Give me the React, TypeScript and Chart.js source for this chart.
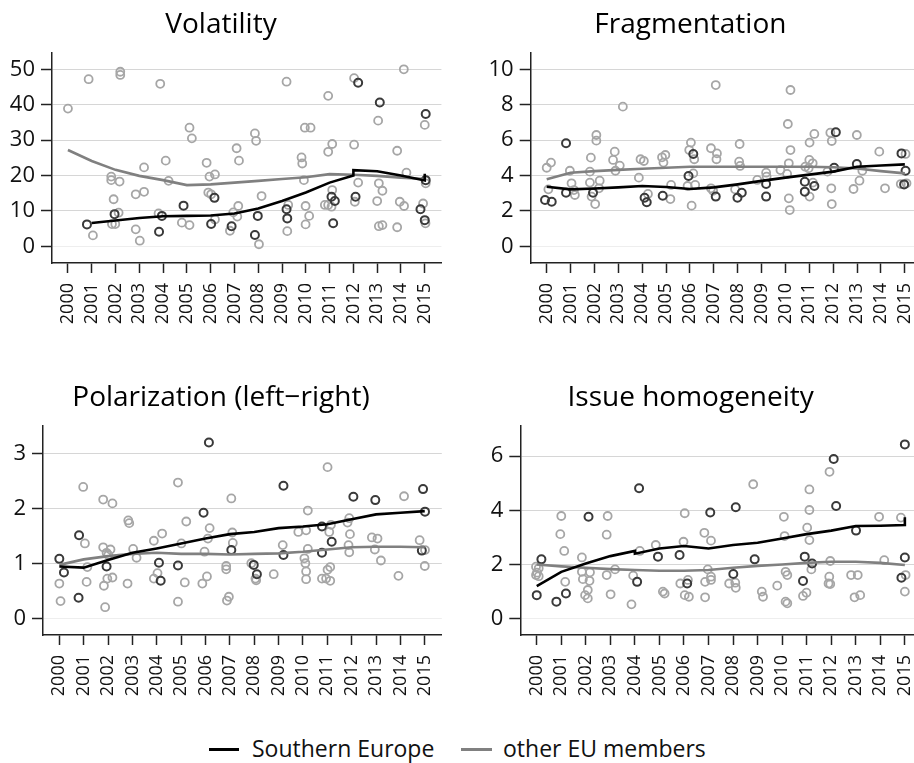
import React, { useEffect, useRef } from "react";
import { Chart, registerables } from "chart.js";

Chart.register(...registerables);

// ---------- data ----------
const years = [2000, 2001, 2002, 2003, 2004, 2005, 2006, 2007, 2008, 2009, 2010, 2011, 2012, 2013, 2014, 2015];
const yearLabels = years.map((y) => String(y));

const seriesNames = ["Southern Europe", "other EU members"];

// Volatility
const volatilityTicks = [0, 10, 20, 30, 40, 50];
const volatilityOther: [number, number][] = [
  [2000.0, 38.9], [2000.87, 47.2], [2001.05, 3.1], [2001.82, 19.7], [2001.82, 18.7], [2001.92, 13.3], [2001.85, 6.3], [2001.99, 6.3],
  [2002.13, 9.5], [2002.2, 49.3], [2002.2, 48.4], [2002.17, 18.3], [2002.85, 4.8], [2003.02, 1.6], [2002.85, 14.7], [2003.2, 15.4],
  [2003.2, 22.3], [2003.88, 45.9], [2003.81, 9.3], [2004.11, 24.2], [2004.23, 18.5], [2005.11, 33.5], [2005.21, 30.5], [2004.79, 6.7],
  [2005.11, 6.0], [2005.83, 23.6], [2005.95, 19.7], [2006.18, 20.3], [2005.9, 15.2], [2006.02, 14.7], [2006.18, 7.6], [2007.09, 27.7],
  [2007.19, 24.2], [2007.16, 11.4], [2006.95, 9.6], [2007.12, 8.4], [2006.81, 4.4], [2007.86, 31.9], [2007.91, 29.8], [2008.14, 14.2],
  [2008.03, 0.6], [2009.19, 46.5], [2009.22, 4.3], [2009.26, 11.7], [2009.82, 25.1], [2009.85, 23.4], [2009.96, 33.5], [2010.2, 33.5],
  [2009.92, 18.7], [2009.99, 11.4], [2010.14, 8.6], [2009.99, 6.2], [2010.94, 42.5], [2010.94, 26.7], [2011.11, 28.9], [2011.11, 15.9],
  [2010.8, 11.7], [2010.94, 11.7], [2011.08, 11.2], [2012.03, 47.5], [2012.03, 28.7], [2012.06, 12.6], [2012.2, 18.0], [2013.04, 35.5],
  [2013.07, 17.8], [2013.22, 15.7], [2013.0, 12.8], [2013.07, 5.7], [2013.22, 6.0], [2013.84, 27.0], [2014.12, 50.0], [2014.23, 20.8],
  [2013.95, 12.6], [2014.13, 11.4], [2013.84, 5.4], [2014.93, 12.1], [2015.0, 34.3], [2015.04, 17.8], [2015.03, 6.5],
];
const volatilitySouth: [number, number][] = [
  [2000.8, 6.2], [2001.96, 9.1], [2003.95, 8.6], [2003.83, 4.1], [2004.86, 11.5], [2006.16, 13.7], [2006.02, 6.3], [2006.88, 5.7],
  [2007.98, 8.6], [2007.86, 3.2], [2009.19, 10.5], [2009.22, 7.9], [2011.08, 14.0], [2011.22, 12.8], [2011.15, 6.5], [2012.2, 46.2],
  [2012.09, 14.0], [2013.11, 40.6], [2014.82, 10.5], [2015.04, 37.4], [2015.04, 18.7], [2015.0, 7.4],
];
const volatilitySouthFit: [number, number][] = [
  [2001, 6.6], [2002, 7.3], [2003, 8.0], [2004, 8.5], [2005, 8.6], [2006, 8.7], [2007, 9.3], [2008, 10.7], [2009, 12.8],
  [2010, 15.2], [2011, 18.0], [2012, 20.0], [2012, 21.5], [2013, 21.2], [2014, 20.0], [2015, 18.6], [2015, 20.5],
];
const volatilityOtherFit: [number, number][] = [
  [2000, 27.2], [2001, 24.1], [2002, 21.6], [2003, 19.9], [2004, 18.7], [2005, 17.3], [2006, 17.5], [2007, 18.0], [2008, 18.5],
  [2009, 19.0], [2010, 19.5], [2011, 20.4], [2012, 20.2], [2013, 19.9], [2014, 19.4], [2015, 19.0],
];

// Fragmentation
const fragmentationTicks = [0, 2, 4, 6, 8, 10];
const fragmentationOther: [number, number][] = [
  [2000.0, 4.44], [2000.18, 4.73], [2000.07, 3.22], [2000.97, 4.27], [2001.04, 3.56], [2001.14, 3.18], [2001.18, 2.9], [2001.85, 5.01],
  [2001.81, 4.22], [2002.08, 6.29], [2002.08, 5.97], [2001.81, 3.6], [2001.88, 2.81], [2002.03, 2.39], [2002.22, 3.71], [2002.19, 3.28],
  [2002.85, 5.35], [2002.78, 4.88], [2002.88, 4.27], [2003.06, 4.56], [2003.19, 7.89], [2003.86, 3.88], [2003.93, 4.92], [2004.07, 4.82],
  [2004.24, 2.96], [2004.83, 5.03], [2004.97, 5.16], [2004.89, 4.73], [2005.21, 3.47], [2005.18, 2.67], [2006.04, 5.86], [2005.97, 5.44],
  [2006.18, 4.92], [2006.14, 4.12], [2005.9, 3.41], [2006.22, 3.47], [2006.07, 2.3], [2006.88, 5.54], [2007.13, 5.25], [2007.11, 4.92],
  [2007.08, 9.11], [2006.88, 3.28], [2006.97, 3.14], [2008.08, 5.78], [2008.06, 4.78], [2008.1, 4.54], [2007.89, 3.22], [2008.82, 3.75],
  [2009.19, 4.16], [2009.21, 3.94], [2009.79, 4.31], [2010.1, 6.91], [2010.21, 8.83], [2010.21, 5.44], [2010.14, 4.69], [2010.07, 4.09],
  [2010.14, 2.71], [2010.18, 2.05], [2011.01, 5.86], [2011.21, 6.35], [2011.0, 4.88], [2011.14, 4.69], [2010.83, 4.5], [2010.97, 4.41],
  [2011.01, 2.81], [2011.15, 3.6], [2011.88, 6.42], [2011.94, 5.95], [2011.92, 3.28], [2011.94, 2.39], [2011.76, 4.22], [2012.99, 6.29],
  [2013.1, 3.71], [2012.85, 3.24], [2013.22, 4.27], [2013.93, 5.35], [2014.17, 3.28], [2014.83, 3.52], [2015.03, 5.22], [2015.07, 3.56],
];
const fragmentationSouth: [number, number][] = [
  [1999.93, 2.62], [2000.21, 2.52], [2000.81, 5.82], [2000.81, 3.03], [2001.94, 3.03], [2004.1, 2.75], [2004.19, 2.49], [2004.86, 2.86],
  [2005.94, 3.97], [2006.14, 5.22], [2007.08, 2.81], [2007.99, 2.75], [2008.17, 3.03], [2009.19, 3.52], [2009.19, 2.81], [2010.81, 3.65],
  [2010.81, 3.09], [2011.21, 3.41], [2012.04, 4.44], [2012.11, 6.44], [2012.99, 4.65], [2014.86, 5.25], [2015.03, 4.27], [2014.97, 3.5],
];
const fragmentationSouthFit: [number, number][] = [
  [2000, 3.37], [2001, 3.22], [2002, 3.27], [2003, 3.33], [2004, 3.41], [2005, 3.35], [2006, 3.24], [2007, 3.33], [2008, 3.5],
  [2009, 3.7], [2010, 3.88], [2011, 4.05], [2012, 4.22], [2013, 4.5], [2014, 4.57], [2015, 4.63],
];
const fragmentationOtherFit: [number, number][] = [
  [2000, 3.79], [2001, 4.16], [2002, 4.25], [2003, 4.32], [2004, 4.38], [2005, 4.44], [2006, 4.5], [2007, 4.5], [2008, 4.5],
  [2009, 4.5], [2010, 4.5], [2011, 4.5], [2012, 4.47], [2013, 4.4], [2014, 4.25], [2015, 4.12],
];

// Polarization (left-right)
const polarizationTicks = [0, 1, 2, 3];
const polarizationOther: [number, number][] = [
  [2000.0, 0.64], [2000.05, 0.32], [2000.98, 2.4], [2001.05, 1.37], [2001.12, 0.67], [2001.15, 0.94], [2001.8, 2.17], [2002.18, 2.1],
  [2001.8, 1.3], [2002.1, 1.26], [2001.94, 1.2], [2002.01, 1.16], [2001.83, 0.6], [2001.97, 0.73], [2002.18, 0.75], [2001.88, 0.21],
  [2002.83, 1.79], [2002.87, 1.74], [2003.03, 1.27], [2003.17, 1.11], [2002.8, 0.64], [2003.88, 1.42], [2004.22, 1.55], [2004.03, 0.83],
  [2003.88, 0.73], [2004.87, 2.48], [2005.01, 1.37], [2005.21, 1.77], [2005.15, 0.66], [2004.87, 0.31], [2006.17, 1.65], [2006.1, 1.46],
  [2005.96, 1.22], [2006.06, 0.77], [2005.87, 0.64], [2007.06, 2.19], [2007.1, 1.57], [2007.12, 1.38], [2006.85, 0.96], [2006.85, 0.9],
  [2006.96, 0.4], [2006.88, 0.33], [2007.88, 1.01], [2008.05, 0.73], [2008.08, 0.7], [2009.17, 1.34], [2008.8, 0.81], [2010.2, 1.97],
  [2009.81, 1.58], [2010.13, 1.61], [2010.2, 1.27], [2010.06, 1.1], [2010.1, 1.01], [2010.13, 0.86], [2010.13, 0.72], [2011.01, 2.76],
  [2011.08, 1.58], [2011.15, 1.71], [2011.01, 0.89], [2011.12, 0.94], [2010.78, 0.73], [2010.95, 0.73], [2011.12, 0.69], [2011.9, 1.83],
  [2011.83, 1.75], [2011.93, 1.54], [2011.87, 1.34], [2011.9, 1.21], [2012.83, 1.48], [2013.06, 1.46], [2012.95, 1.26], [2013.2, 1.06],
  [2014.15, 2.23], [2013.92, 0.78], [2014.79, 1.43], [2015.01, 1.25], [2015.0, 0.96],
];
const polarizationSouth: [number, number][] = [
  [2000.0, 1.09], [2000.19, 0.84], [2000.81, 1.52], [2000.79, 0.38], [2001.94, 0.95], [2004.09, 1.02], [2004.16, 0.69], [2004.87, 0.97],
  [2005.92, 1.93], [2006.14, 3.21], [2007.06, 1.25], [2007.98, 0.98], [2008.11, 0.81], [2009.2, 2.42], [2009.2, 1.16], [2010.78, 1.68],
  [2010.78, 1.2], [2011.18, 1.4], [2012.07, 2.22], [2012.97, 2.16], [2014.93, 2.36], [2015.01, 1.95], [2014.88, 1.24],
];
const polarizationSouthFit: [number, number][] = [
  [2000, 0.95], [2001, 0.93], [2002, 1.07], [2003, 1.2], [2004, 1.28], [2005, 1.37], [2006, 1.46], [2007, 1.54], [2008, 1.58],
  [2009, 1.65], [2010, 1.68], [2011, 1.72], [2012, 1.81], [2013, 1.9], [2014, 1.93], [2015, 1.96],
];
const polarizationOtherFit: [number, number][] = [
  [2000, 0.98], [2001, 1.08], [2002, 1.14], [2003, 1.18], [2004, 1.2], [2005, 1.18], [2006, 1.18], [2007, 1.17], [2008, 1.18],
  [2009, 1.19], [2010, 1.22], [2011, 1.26], [2012, 1.3], [2013, 1.31], [2014, 1.31], [2015, 1.3],
];

// Issue homogeneity
const homogeneityTicks = [0, 2, 4, 6];
const homogeneityOther: [number, number][] = [
  [1999.97, 1.92], [2000.08, 1.86], [2000.01, 1.7], [2000.08, 1.57], [1999.97, 1.61], [2001.0, 3.79], [2000.96, 3.12], [2001.12, 2.5],
  [2001.16, 1.36], [2001.84, 2.26], [2001.84, 1.73], [2001.88, 1.46], [2002.15, 1.4], [2002.17, 1.71], [2001.97, 0.87], [2002.08, 1.06],
  [2002.08, 0.75], [2002.89, 3.79], [2002.85, 3.1], [2002.85, 1.61], [2003.19, 1.82], [2003.01, 0.9], [2003.86, 0.53], [2003.93, 1.59],
  [2004.2, 2.5], [2004.85, 2.72], [2005.14, 1.0], [2005.21, 0.93], [2006.03, 3.89], [2005.98, 2.84], [2005.85, 1.3], [2006.16, 1.43],
  [2006.03, 0.87], [2006.2, 0.81], [2006.83, 3.17], [2007.1, 2.88], [2007.1, 1.55], [2006.86, 1.36], [2006.97, 1.82], [2007.1, 1.43],
  [2006.86, 0.79], [2007.84, 1.3], [2008.09, 1.33], [2008.11, 1.14], [2008.82, 4.96], [2009.17, 1.0], [2009.22, 0.81], [2009.8, 1.22],
  [2010.07, 3.76], [2010.1, 3.05], [2010.14, 1.73], [2010.21, 1.61], [2010.14, 0.63], [2010.21, 0.57], [2011.11, 4.77], [2011.11, 4.01],
  [2011.02, 3.36], [2011.11, 2.9], [2011.19, 1.82], [2010.85, 0.84], [2010.99, 0.96], [2011.93, 5.42], [2011.96, 2.13], [2011.92, 1.55],
  [2011.89, 1.3], [2011.96, 1.28], [2012.81, 1.61], [2013.08, 1.61], [2012.95, 0.79], [2013.18, 0.87], [2013.95, 3.76], [2014.16, 2.16],
  [2014.84, 3.73], [2015.03, 1.61], [2015.0, 1.0],
];
const homogeneitySouth: [number, number][] = [
  [2000.0, 0.87], [2000.19, 2.19], [2000.8, 0.63], [2001.19, 0.93], [2002.11, 3.76], [2004.17, 4.81], [2004.09, 1.36], [2004.94, 2.29],
  [2005.82, 2.35], [2006.13, 1.3], [2007.07, 3.92], [2008.11, 4.11], [2008.01, 1.65], [2008.88, 2.19], [2010.92, 2.29], [2010.85, 1.39],
  [2011.22, 2.04], [2012.1, 5.89], [2012.2, 4.16], [2013.01, 3.25], [2015.0, 6.43], [2015.0, 2.26], [2014.86, 1.51],
];
const homogeneitySouthFit: [number, number][] = [
  [2000, 1.2], [2001, 1.73], [2002, 2.04], [2003, 2.31], [2004, 2.5], [2004, 2.4], [2005, 2.59], [2006, 2.68], [2007, 2.59],
  [2008, 2.72], [2009, 2.8], [2010, 2.96], [2011, 3.12], [2012, 3.25], [2013, 3.42], [2014, 3.43], [2015, 3.46], [2015, 3.74],
];
const homogeneityOtherFit: [number, number][] = [
  [2000, 2.0], [2001, 1.93], [2002, 1.88], [2003, 1.83], [2004, 1.8], [2005, 1.77], [2006, 1.77], [2007, 1.8], [2008, 1.88],
  [2009, 1.95], [2010, 2.0], [2011, 2.06], [2012, 2.1], [2013, 2.1], [2014, 2.06], [2015, 1.98],
];

// ---------- styling ----------
const FONT = "'Open Sans', 'Noto Sans', sans-serif";
const SOUTH_POINT = "#3a3a3a";
const OTHER_POINT = "#a6a6a6";
const SOUTH_LINE = "#000000";
const OTHER_LINE = "#808080";

type PanelSpec = {
  title: string;
  left: number;
  top: number;
  width: number;
  height: number;
  padTop: number;
  padRight: number;
  yAxisWidth: number;
  xAxisHeight: number;
  yMin: number;
  yMax: number;
  yTicks: number[];
  south: [number, number][];
  other: [number, number][];
  southFit: [number, number][];
  otherFit: [number, number][];
};

const panels: PanelSpec[] = [
  {
    title: "Volatility", left: 0, top: 0, width: 457, height: 330, padTop: 8.2, padRight: 15,
    yAxisWidth: 52, xAxisHeight: 67, yMin: -4.7, yMax: 54.6, yTicks: volatilityTicks,
    south: volatilitySouth, other: volatilityOther, southFit: volatilitySouthFit, otherFit: volatilityOtherFit,
  },
  {
    title: "Fragmentation", left: 457, top: 0, width: 480, height: 330, padTop: 8.2, padRight: 13.2,
    yAxisWidth: 73.7, xAxisHeight: 67, yMin: -0.94, yMax: 10.92, yTicks: fragmentationTicks,
    south: fragmentationSouth, other: fragmentationOther, southFit: fragmentationSouthFit, otherFit: fragmentationOtherFit,
  },
  {
    title: "Polarization (left\u2212right)", left: 0, top: 330, width: 457, height: 380, padTop: 50.9, padRight: 15,
    yAxisWidth: 43, xAxisHeight: 75, yMin: -0.297, yMax: 3.515, yTicks: polarizationTicks,
    south: polarizationSouth, other: polarizationOther, southFit: polarizationSouthFit, otherFit: polarizationOtherFit,
  },
  {
    title: "Issue homogeneity", left: 457, top: 330, width: 480, height: 380, padTop: 50.9, padRight: 12.7,
    yAxisWidth: 63.3, xAxisHeight: 75, yMin: -0.6, yMax: 7.12, yTicks: homogeneityTicks,
    south: homogeneitySouth, other: homogeneityOther, southFit: homogeneitySouthFit, otherFit: homogeneityOtherFit,
  },
];

const toXY = (arr: [number, number][]) => arr.map(([x, y]) => ({ x, y }));

function Panel({ spec }: { spec: PanelSpec }) {
  const ref = useRef<HTMLCanvasElement | null>(null);
  useEffect(() => {
    if (!ref.current) return;
    const chart = new Chart(ref.current, {
      type: "scatter",
      data: {
        datasets: [
          {
            label: seriesNames[0], data: toXY(spec.southFit), showLine: true, borderColor: SOUTH_LINE,
            borderWidth: 2.6, pointRadius: 0, tension: 0, order: 0,
          },
          {
            label: seriesNames[1], data: toXY(spec.otherFit), showLine: true, borderColor: OTHER_LINE,
            borderWidth: 2.6, pointRadius: 0, tension: 0, order: 1,
          },
          {
            label: seriesNames[0] + " points", data: toXY(spec.south), borderColor: SOUTH_POINT,
            backgroundColor: "rgba(0,0,0,0)", pointRadius: 4, borderWidth: 2, order: 2,
          },
          {
            label: seriesNames[1] + " points", data: toXY(spec.other), borderColor: OTHER_POINT,
            backgroundColor: "rgba(0,0,0,0)", pointRadius: 4, borderWidth: 1.8, order: 3,
          },
        ],
      },
      options: {
        responsive: false,
        animation: false,
        events: [],
        layout: { padding: { top: spec.padTop, right: spec.padRight, left: 0, bottom: 0 } },
        plugins: {
          legend: { display: false },
          tooltip: { enabled: false },
          title: {
            display: true,
            text: spec.title,
            color: "#000",
            font: { family: FONT, size: 28, weight: "normal" as any, lineHeight: 1.2 },
            padding: { top: 0, bottom: 11.2 },
          },
        },
        scales: {
          x: {
            type: "linear",
            min: 1999.33,
            max: 2015.7,
            afterBuildTicks: (scale: any) => {
              scale.ticks = years.map((v) => ({ value: v }));
            },
            afterFit: (scale: any) => {
              scale.height = spec.xAxisHeight;
            },
            ticks: {
              autoSkip: false,
              maxRotation: 90,
              minRotation: 90,
              padding: 10,
              color: "#111",
              font: { family: FONT, size: 18 },
              callback: (v: any) => {
                const i = years.indexOf(Number(v));
                return i >= 0 ? yearLabels[i] : "";
              },
            },
            grid: {
              drawOnChartArea: false,
              drawTicks: true,
              tickLength: 10,
              tickColor: "#222",
              tickWidth: 1.5,
            },
            border: { display: true, color: "#222", width: 1.5 },
          },
          y: {
            type: "linear",
            min: spec.yMin,
            max: spec.yMax,
            afterBuildTicks: (scale: any) => {
              scale.ticks = spec.yTicks.map((v) => ({ value: v }));
            },
            afterFit: (scale: any) => {
              scale.width = spec.yAxisWidth;
            },
            ticks: {
              padding: 6,
              color: "#111",
              font: { family: FONT, size: 22 },
              callback: (v: any) => String(v),
            },
            grid: {
              drawOnChartArea: true,
              drawTicks: true,
              tickLength: 11,
              tickColor: "#222",
              tickWidth: 1.5,
              lineWidth: 1,
              color: (ctx: any) => (ctx.tick && ctx.tick.value === 0 ? "#eeeeee" : "#d6d6d6"),
            },
            border: { display: true, color: "#222", width: 1.5 },
          },
        },
      },
    });
    return () => chart.destroy();
  }, [spec]);

  return (
    <div style={{ position: "absolute", left: spec.left, top: spec.top, width: spec.width, height: spec.height }}>
      <canvas ref={ref} width={spec.width} height={spec.height} style={{ width: spec.width, height: spec.height, display: "block" }} />
    </div>
  );
}

export default function App() {
  return (
    <div
      style={{
        position: "absolute", left: 0, top: 0, width: 914, height: 763, overflow: "hidden",
        background: "#fff", fontFamily: FONT,
      }}
    >
      {panels.map((p) => (
        <Panel key={p.title} spec={p} />
      ))}
      <div style={{ position: "absolute", left: 209, top: 748, width: 30, height: 3, background: SOUTH_LINE }} />
      <div style={{ position: "absolute", left: 252, top: 733, fontSize: 23, lineHeight: "31px", color: "#111", whiteSpace: "nowrap" }}>
        {seriesNames[0]}
      </div>
      <div style={{ position: "absolute", left: 461, top: 748, width: 31, height: 3, background: OTHER_LINE }} />
      <div style={{ position: "absolute", left: 503, top: 733, fontSize: 23, lineHeight: "31px", color: "#111", whiteSpace: "nowrap" }}>
        {seriesNames[1]}
      </div>
    </div>
  );
}
